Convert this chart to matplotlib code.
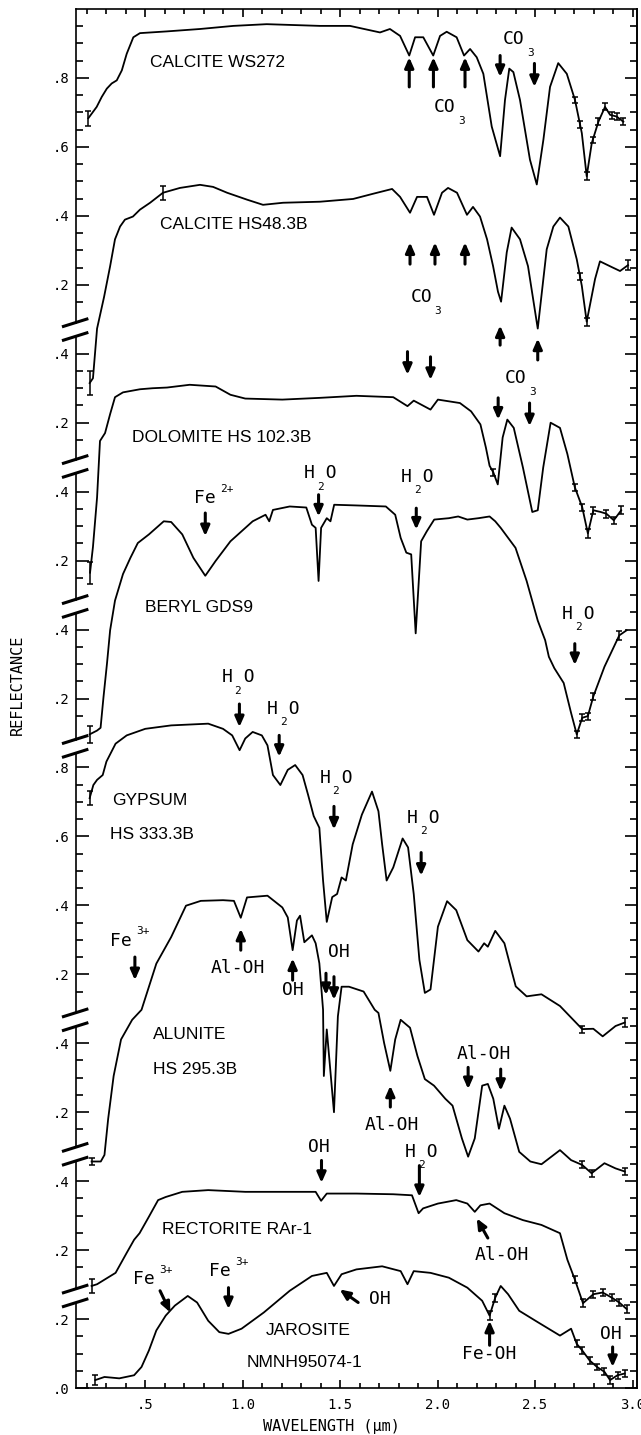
import numpy as np
import matplotlib.pyplot as plt

# wavelength (um) and reflectance, one pair per sample
ws272_wl = [0.209, 0.252, 0.278, 0.304, 0.329, 0.355, 0.381, 0.406, 0.440, 0.474, 0.611, 0.782, 0.953,
            1.124, 1.397, 1.551, 1.705, 1.756, 1.808, 1.855, 1.885, 1.927, 1.978, 2.013, 2.047, 2.098,
            2.136, 2.167, 2.201, 2.235, 2.278, 2.321, 2.346, 2.368, 2.389, 2.423, 2.474, 2.509, 2.543,
            2.577, 2.619, 2.663, 2.705, 2.740, 2.765, 2.791, 2.825, 2.859, 2.885, 2.919, 2.953]
ws272_refl = [.683, .716, .745, .769, .784, .793, .822, .870, .918, .930, .935, .942, .951,
              .956, .951, .951, .932, .942, .922, .865, .918, .918, .865, .922, .934, .918,
              .865, .884, .860, .812, .659, .573, .736, .827, .817, .736, .563, .491, .621,
              .774, .843, .812, .736, .640, .515, .611, .673, .716, .693, .688, .673]
ws272_err_wl = [0.209, 2.705, 2.731, 2.765, 2.796, 2.825, 2.859, 2.893, 2.919, 2.950]
ws272_err = [0.022, 0.01, 0.01, 0.012, 0.01, 0.01, 0.01, 0.01, 0.01, 0.01]

hs48_wl = [0.216, 0.233, 0.254, 0.290, 0.321, 0.346, 0.372, 0.397, 0.438, 0.474, 0.526, 0.592, 0.679,
           0.782, 0.849, 0.921, 1.023, 1.105, 1.208, 1.397, 1.567, 1.669, 1.767, 1.808, 1.859, 1.895,
           1.946, 1.982, 2.023, 2.054, 2.100, 2.151, 2.182, 2.218, 2.254, 2.285, 2.310, 2.326, 2.355,
           2.380, 2.423, 2.464, 2.514, 2.560, 2.594, 2.628, 2.671, 2.714, 2.740, 2.765, 2.808, 2.833,
           2.895, 2.936, 2.977]
hs48_refl = [.315, .329, .473, .565, .654, .732, .769, .789, .798, .818, .838, .867, .881,
             .890, .884, .867, .847, .832, .838, .841, .849, .864, .878, .855, .809, .855,
             .855, .803, .867, .881, .867, .803, .826, .798, .732, .654, .580, .551, .694,
             .766, .732, .654, .473, .703, .769, .795, .769, .674, .597, .493, .617, .668,
             .651, .640, .657]
hs48_err_wl = [0.216, 0.592, 2.731, 2.765, 2.977]
hs48_err = [0.035, 0.02, 0.01, 0.012, 0.015]

dolomite_wl = [0.218, 0.233, 0.254, 0.269, 0.295, 0.321, 0.346, 0.387, 0.474, 0.539, 0.613, 0.729,
               0.782, 0.862, 0.938, 1.014, 1.204, 1.394, 1.584, 1.773, 1.846, 1.878, 1.964, 2.002,
               2.115, 2.172, 2.220, 2.248, 2.267, 2.286, 2.309, 2.334, 2.358, 2.391, 2.438, 2.486,
               2.514, 2.542, 2.580, 2.628, 2.666, 2.704, 2.742, 2.771, 2.799, 2.837, 2.866, 2.904, 2.942]
dolomite_refl = [.165, .240, .383, .547, .570, .625, .674, .688, .697, .700, .702, .710,
                 .708, .705, .681, .670, .667, .672, .678, .674, .648, .664, .638, .667,
                 .657, .633, .595, .528, .475, .456, .421, .557, .609, .585, .470, .341,
                 .346, .470, .600, .585, .509, .413, .355, .279, .346, .341, .336, .317, .346]
dolomite_err_wl = [0.218, 2.286, 2.704, 2.742, 2.771, 2.799, 2.866, 2.904, 2.942]
dolomite_err = [0.032, 0.01, 0.01, 0.01, 0.012, 0.01, 0.012, 0.01, 0.012]

beryl_wl = [0.216, 0.254, 0.272, 0.287, 0.305, 0.321, 0.346, 0.387, 0.425, 0.463, 0.520, 0.596,
            0.634, 0.691, 0.748, 0.809, 0.862, 0.938, 1.052, 1.118, 1.137, 1.156, 1.242, 1.327,
            1.356, 1.375, 1.390, 1.403, 1.432, 1.451, 1.470, 1.584, 1.735, 1.783, 1.811, 1.840,
            1.865, 1.888, 1.916, 1.945, 1.983, 2.058, 2.106, 2.153, 2.210, 2.267, 2.296, 2.324,
            2.400, 2.457, 2.514, 2.552, 2.571, 2.599, 2.647, 2.685, 2.714, 2.742, 2.771, 2.799,
            2.856, 2.932, 2.970]
beryl_refl = [.096, .107, .115, .204, .302, .398, .484, .561, .608, .651, .676, .714,
              .712, .676, .608, .556, .599, .656, .714, .733, .714, .747, .757, .754,
              .704, .695, .541, .695, .723, .714, .762, .760, .757, .733, .666, .623,
              .618, .389, .656, .685, .719, .723, .728, .719, .723, .728, .714, .695,
              .637, .541, .426, .369, .321, .288, .245, .158, .096, .144, .149, .206,
              .292, .383, .398]
beryl_err_wl = [0.216, 2.714, 2.742, 2.771, 2.799, 2.932]
beryl_err = [0.025, 0.01, 0.01, 0.01, 0.01, 0.012]

gypsum_wl = [0.216, 0.235, 0.254, 0.283, 0.302, 0.349, 0.406, 0.501, 0.634, 0.824, 0.900, 0.947,
             0.985, 1.014, 1.052, 1.099, 1.128, 1.156, 1.194, 1.232, 1.270, 1.308, 1.336, 1.365,
             1.394, 1.413, 1.432, 1.460, 1.485, 1.508, 1.530, 1.565, 1.612, 1.664, 1.697, 1.716,
             1.739, 1.773, 1.821, 1.849, 1.878, 1.907, 1.935, 1.964, 2.002, 2.049, 2.096, 2.153,
             2.210, 2.239, 2.258, 2.296, 2.343, 2.401, 2.457, 2.533, 2.628, 2.742, 2.799, 2.847,
             2.913, 2.960]
gypsum_refl = [.711, .749, .764, .778, .817, .869, .893, .912, .922, .927, .912, .893,
               .850, .884, .903, .893, .864, .778, .749, .793, .807, .778, .721, .659,
               .625, .472, .352, .424, .433, .481, .472, .577, .663, .730, .673, .577,
               .472, .510, .594, .568, .433, .242, .146, .156, .338, .412, .386, .299,
               .266, .290, .280, .326, .290, .165, .136, .142, .108, .041, .042, .020,
               .050, .060]
gypsum_err_wl = [0.216, 2.742, 2.960]
gypsum_err = [0.02, 0.01, 0.012]

alunite_wl = [0.226, 0.273, 0.292, 0.311, 0.339, 0.377, 0.434, 0.482, 0.558, 0.634, 0.710, 0.786,
              0.900, 0.956, 0.991, 1.023, 1.128, 1.204, 1.232, 1.257, 1.279, 1.295, 1.317, 1.356,
              1.375, 1.394, 1.413, 1.417, 1.432, 1.469, 1.489, 1.508, 1.546, 1.621, 1.678, 1.697,
              1.726, 1.758, 1.783, 1.811, 1.859, 1.897, 1.935, 1.982, 2.040, 2.077, 2.125, 2.157,
              2.191, 2.229, 2.258, 2.286, 2.315, 2.343, 2.372, 2.419, 2.476, 2.533, 2.628, 2.685,
              2.742, 2.790, 2.856, 2.913, 2.960]
alunite_refl = [.057, .057, .076, .181, .305, .411, .468, .497, .631, .708, .799, .813,
                .815, .813, .764, .823, .828, .794, .765, .670, .756, .770, .693, .713,
                .690, .632, .497, .305, .440, .200, .478, .564, .564, .550, .497, .488,
                .401, .320, .411, .468, .445, .363, .296, .277, .239, .219, .124, .071,
                .124, .277, .282, .239, .152, .219, .181, .085, .057, .049, .090, .061,
                .047, .023, .052, .037, .028]
alunite_err_wl = [0.226, 2.742, 2.790, 2.960]
alunite_err = [0.01, 0.01, 0.01, 0.01]

rectorite_wl = [0.226, 0.254, 0.349, 0.406, 0.444, 0.472, 0.520, 0.567, 0.606, 0.691, 0.824, 1.014,
                1.204, 1.375, 1.403, 1.432, 1.584, 1.773, 1.869, 1.903, 1.926, 2.002, 2.096, 2.153,
                2.191, 2.220, 2.267, 2.343, 2.438, 2.533, 2.628, 2.666, 2.704, 2.746, 2.799, 2.847,
                2.894, 2.932, 2.970]
rectorite_refl = [.096, .101, .134, .192, .230, .249, .297, .345, .354, .369, .374, .369,
                  .369, .369, .343, .364, .364, .362, .359, .307, .321, .335, .345, .335,
                  .311, .330, .335, .307, .287, .273, .249, .172, .115, .046, .072, .077,
                  .062, .048, .029]
rectorite_err_wl = [0.226, 2.704, 2.746, 2.799, 2.847, 2.894, 2.932, 2.970]
rectorite_err = [0.02, 0.01, 0.012, 0.01, 0.01, 0.01, 0.01, 0.012]

jarosite_wl = [0.245, 0.292, 0.368, 0.444, 0.482, 0.520, 0.558, 0.606, 0.653, 0.719, 0.767, 0.824,
               0.881, 0.928, 0.995, 1.109, 1.242, 1.356, 1.432, 1.469, 1.508, 1.584, 1.716, 1.811,
               1.846, 1.878, 1.964, 2.058, 2.153, 2.229, 2.267, 2.296, 2.324, 2.362, 2.419, 2.514,
               2.628, 2.685, 2.714, 2.742, 2.780, 2.818, 2.856, 2.885, 2.923, 2.960]
jarosite_refl = [.023, .032, .028, .037, .061, .109, .167, .210, .239, .267, .248, .195,
                 .162, .157, .172, .219, .282, .325, .334, .296, .330, .344, .353, .339,
                 .301, .339, .334, .320, .291, .253, .210, .262, .296, .272, .224, .191,
                 .152, .172, .128, .109, .080, .061, .047, .023, .037, .042]
jarosite_err_wl = [0.245, 2.267, 2.296, 2.714, 2.742, 2.780, 2.818, 2.856, 2.885, 2.923, 2.960]
jarosite_err = [0.015, 0.012, 0.012, 0.01, 0.01, 0.01, 0.01, 0.01, 0.012, 0.01, 0.01]

# left axis tick labels, bottom to top (the scale restarts after every break)
ytick_labels = [".0", ".2", ".2", ".4", ".2", ".4", ".2", ".4", ".6", ".8",
                ".2", ".4", ".2", ".4", ".2", ".4", ".2", ".4", ".6", ".8"]
xtick_vals = [0.5, 1.0, 1.5, 2.0, 2.5, 3.0]
xtick_labels = [".5", "1.0", "1.5", "2.0", "2.5", "3.0"]

spectra = [
    (ws272_wl, ws272_refl, ws272_err_wl, ws272_err),
    (hs48_wl, hs48_refl, hs48_err_wl, hs48_err),
    (dolomite_wl, dolomite_refl, dolomite_err_wl, dolomite_err),
    (beryl_wl, beryl_refl, beryl_err_wl, beryl_err),
    (gypsum_wl, gypsum_refl, gypsum_err_wl, gypsum_err),
    (alunite_wl, alunite_refl, alunite_err_wl, alunite_err),
    (rectorite_wl, rectorite_refl, rectorite_err_wl, rectorite_err),
    (jarosite_wl, jarosite_refl, jarosite_err_wl, jarosite_err),
]
# vertical offset of each spectrum (where its zero sits on the stacked axis)
offsets = [3.0, 2.6, 2.2, 1.8, 1.0, 0.6, 0.2, 0.0]
breaks = [0.267, 0.678, 1.068, 1.861, 2.267, 2.673, 3.07]

# sample names: (spectrum, text, wavelength, reflectance)
names = [
    (0, "CALCITE WS272", 0.526, 0.845),
    (1, "CALCITE HS48.3B", 0.577, 0.775),
    (2, "DOLOMITE HS 102.3B", 0.433, 0.556),
    (3, "BERYL GDS9", 0.500, 0.464),
    (4, "GYPSUM", 0.331, 0.703),
    (4, "HS 333.3B", 0.321, 0.605),
    (5, "ALUNITE", 0.539, 0.425),
    (5, "HS 295.3B", 0.539, 0.325),
    (6, "RECTORITE RAr-1", 0.587, 0.261),
    (7, "JAROSITE", 1.118, 0.167),
    (7, "NMNH95074-1", 1.023, 0.075),
]

# absorption feature labels: (spectrum, text, wavelength, reflectance)
features = [
    (0, "CO_3", 2.038, 0.716), (0, "CO_3", 2.39, 0.914),
    (1, "CO_3", 1.916, 0.564),
    (2, "CO_3", 2.400, 0.729),
    (3, "Fe^2+", 0.805, 0.781), (3, "H_2O", 1.398, 0.853), (3, "H_2O", 1.897, 0.843),
    (3, "H_2O", 2.723, 0.446),
    (4, "H_2O", 0.976, 1.061), (4, "H_2O", 1.209, 0.970), (4, "H_2O", 1.479, 0.769),
    (4, "H_2O", 1.926, 0.654),
    (5, "Fe^3+", 0.377, 0.698), (5, "Al-OH", 0.976, 0.617), (5, "OH", 1.26, 0.555),
    (5, "OH", 1.495, 0.665), (5, "Al-OH", 1.764, 0.162), (5, "Al-OH", 2.238, 0.368),
    (6, "OH", 1.394, 0.498), (6, "H_2O", 1.916, 0.484), (6, "Al-OH", 2.332, 0.187),
    (7, "Fe^3+", 0.495, 0.315), (7, "Fe^3+", 0.885, 0.339), (7, "OH", 1.705, 0.258),
    (7, "Fe-OH", 2.267, 0.100), (7, "OH", 2.888, 0.157),
]

# arrows: (spectrum, wl tail, refl tail, wl head, refl head)
arrows = [
    (0, 1.855, .774, 1.855, .860), (0, 1.979, .774, 1.979, .860), (0, 2.141, .774, 2.141, .860),
    (0, 2.321, .865, 2.321, .803), (0, 2.497, .842, 2.497, .774),
    (1, 1.859, .660, 1.859, .723), (1, 1.987, .660, 1.987, .723), (1, 2.141, .660, 2.141, .723),
    (1, 2.321, .425, 2.321, .482), (1, 2.514, .382, 2.514, .444),
    (2, 1.846, .806, 1.846, .739), (2, 1.964, .791, 1.964, .724),
    (2, 2.311, .672, 2.311, .609), (2, 2.472, .657, 2.472, .590),
    (3, 0.809, .738, 0.809, .671), (3, 1.390, .791, 1.390, .728), (3, 1.891, .752, 1.891, .690),
    (3, 2.704, .359, 2.704, .297),
    (4, 0.984, .984, 0.984, .917), (4, 1.188, .893, 1.188, .831), (4, 1.469, .687, 1.469, .620),
    (4, 1.916, .553, 1.916, .486),
    (5, 0.448, .650, 0.448, .583), (5, 0.991, .670, 0.991, .732), (5, 1.257, .583, 1.257, .646),
    (5, 1.428, .603, 1.428, .540), (5, 1.469, .593, 1.469, .526), (5, 1.758, .215, 1.758, .277),
    (5, 2.157, .330, 2.157, .267), (5, 2.324, .325, 2.324, .262),
    (6, 1.405, .460, 1.405, .395), (6, 1.907, .445, 1.907, .354), (6, 2.258, .235, 2.201, .292),
    (7, 0.577, .282, 0.630, .219), (7, 0.928, .291, 0.928, .229), (7, 1.593, .248, 1.498, .286),
    (7, 2.267, .124, 2.267, .195), (7, 2.898, .119, 2.898, .061),
]

MONO = "DejaVu Sans Mono"
plt.rcParams["font.family"] = MONO

fig = plt.figure(figsize=(6.41, 14.35), dpi=100)
ax = fig.add_axes([76 / 641, 47 / 1435, 561 / 641, 1379 / 1435])

for (wl, refl, ewl, err), off in zip(spectra, offsets):
    y = off + np.array(refl)
    ax.plot(wl, y, color="k", lw=1.3)
    ey = off + np.interp(ewl, wl, refl)
    ax.errorbar(ewl, ey, yerr=err, fmt="none", ecolor="k", elinewidth=1.1,
                capsize=2.2, capthick=1.1)

for idx, text, x, r in names:
    ax.text(x, offsets[idx] + r, text, family="Liberation Sans", fontsize=12.5,
            ha="left", va="center")


def feature_label(x, y, s):
    kw = dict(ha="center", va="center", fontsize=13)
    small = dict(textcoords="offset points", ha="center", va="center", fontsize=8)
    if "_" in s:
        base, rest = s.split("_")
        if len(rest) > 1:          # H_2O : subscript sits between the letters
            ax.text(x, y, base + " " + rest[1:], **kw)
            ax.annotate(rest[0], (x, y), xytext=(0, -9.5), **small)
        else:                      # CO_3
            ax.text(x, y, base, **kw)
            ax.annotate(rest, (x, y), xytext=(12, -10), **small)
    elif "^" in s:                 # Fe^3+
        base, sup = s.split("^")
        ax.text(x, y, base, **kw)
        ax.annotate(sup, (x, y), xytext=(16, 6.5), **small)
    else:
        ax.text(x, y, s, **kw)


for idx, text, x, r in features:
    feature_label(x, offsets[idx] + r, text)

for idx, x0, r0, x1, r1 in arrows:
    off = offsets[idx]
    ax.annotate("", xy=(x1, off + r1), xytext=(x0, off + r0),
                arrowprops=dict(arrowstyle="-|>,head_length=0.5,head_width=0.22",
                                lw=2.2, color="k", shrinkA=0, shrinkB=0,
                                mutation_scale=12))

ax.set_xlim(0.146, 3.023)
ax.set_ylim(0, 4.0)

ax.set_xticks(xtick_vals, xtick_labels)
ax.set_xticks(np.round(np.arange(0.2, 3.01, 0.1), 2), minor=True)
ax.tick_params(axis="x", which="both", direction="in", top=True, bottom=True, width=1.2)
ax.tick_params(axis="x", which="major", length=6, pad=7, labelsize=10)
ax.tick_params(axis="x", which="minor", length=3.5)

ymajor = np.round(np.arange(0, 3.81, 0.2), 2)
ax.set_yticks(ymajor, ytick_labels)
yminor = [v for v in np.round(np.arange(0.05, 4.0, 0.05), 2)
          if min(abs(v - b) for b in breaks) > 0.04]
ax.set_yticks(yminor, minor=True)
ax.tick_params(axis="y", which="both", direction="in", left=True, right=False, width=1.2)
ax.tick_params(axis="y", which="major", length=9, pad=5, labelsize=10)
ax.tick_params(axis="y", which="minor", length=5)

right = ax.secondary_yaxis("right")
right.set_ticks(ymajor)
right.set_ticks(np.round(np.arange(0.05, 4.0, 0.05), 2), minor=True)
right.tick_params(axis="y", which="both", direction="in", labelright=False, width=1.2)
right.tick_params(axis="y", which="major", length=9)
right.tick_params(axis="y", which="minor", length=5)

for side in ["top", "bottom", "right"]:
    ax.spines[side].set_linewidth(1.2)
right.spines["right"].set_linewidth(1.2)
ax.spines["left"].set_visible(False)

# broken left axis: spine pieces plus the double slash at each break
ytrans = ax.get_yaxis_transform()
edges = [0.0]
for b in breaks:
    edges += [b - 0.02, b + 0.02]
edges.append(4.0)
for y0, y1 in zip(edges[::2], edges[1::2]):
    ax.plot([0, 0], [y0, y1], transform=ytrans, color="k", lw=1.2, clip_on=False)
for b in breaks:
    for d in (-0.02, 0.02):
        ax.plot([-0.025, 0.022], [b + d - 0.012, b + d + 0.012], transform=ytrans,
                color="k", lw=2.2, clip_on=False, solid_capstyle="butt")

ax.set_xlabel("WAVELENGTH (μm)", fontsize=11)
ax.xaxis.set_label_coords(0.456, -0.0225)
ax.set_ylabel("REFLECTANCE", fontsize=11)
ax.yaxis.set_label_coords(-0.091, 0.51)

fig.savefig("out.png", dpi=100)
